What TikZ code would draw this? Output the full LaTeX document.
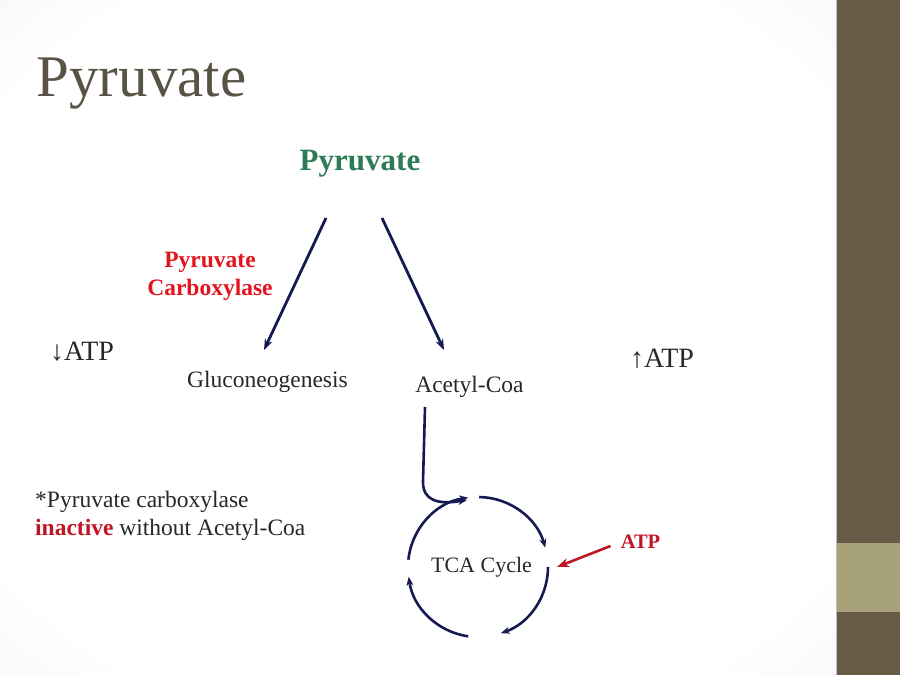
\documentclass[tikz,border=0pt]{standalone}
\usepackage{fontspec}
\setmainfont{Liberation Serif}
\usepackage{tikz}
\usetikzlibrary{arrows.meta,positioning,calc}
\definecolor{navy}{RGB}{22,26,82}
\definecolor{brick}{RGB}{192,22,36}
\definecolor{hired}{RGB}{228,20,30}
\definecolor{pgreen}{RGB}{44,124,88}
\definecolor{titlegray}{RGB}{88,83,68}
\definecolor{ink}{RGB}{40,40,40}
\definecolor{barbrown}{RGB}{103,91,72}
\definecolor{barolive}{RGB}{168,162,122}
\pgfdeclareradialshading{slideglow}{\pgfpoint{0bp}{0bp}}{color(0bp)=(white); color(30bp)=(white); color(50bp)=(black!9); color(72bp)=(black!18)}

\begin{document}
\begin{tikzpicture}[x=1pt,y=-1pt,
  txt/.style={anchor=base,inner sep=0pt,text=ink,font=\fontsize{23.5}{28}\selectfont},
  flow/.style={draw=navy,line width=2.8pt,-{Stealth[length=11pt,width=8pt]}},
  cyc/.style={draw=navy,line width=2.6pt,-{Stealth[length=9pt,width=7pt]}}]
  % slide background and side bar
  \useasboundingbox (0,0) rectangle (900,675);
  \shade[shading=slideglow] (0,0) rectangle (836,675);
  \fill[barbrown] (836,0) rectangle (900,675);
  \fill[barolive] (836,543) rectangle (900,612);
  \draw[black!25,line width=1pt] (836,0) -- (836,675);
  % title and labels
  \node[txt,text=titlegray,font=\fontsize{59}{70}\selectfont] (title) at (141.5,96) {Pyruvate};
  \node[txt,text=pgreen,font=\bfseries\fontsize{31}{36}\selectfont] (pyr) at (360,170) {Pyruvate};
  \node[txt,text=hired,font=\bfseries\fontsize{23.5}{28}\selectfont,align=center] (enz) at (210,295) {Pyruvate\\Carboxylase};
  \node[txt,anchor=base west,font=\fontsize{28}{32}\selectfont] (lowatp) at (50,360) {↓ATP};
  \node[txt,anchor=base west,font=\fontsize{28}{32}\selectfont] (highatp) at (630,367) {↑ATP};
  \node[txt] (gluco) at (267.5,387) {Gluconeogenesis};
  \node[txt] (acetyl) at (469.5,392) {Acetyl-Coa};
  \node[txt,font=\fontsize{22}{26}\selectfont] (cycle) at (481.5,572) {TCA Cycle};
  \node[txt,text=brick,font=\bfseries\fontsize{20.5}{24}\selectfont] (atp) at (640.5,548) {ATP};
  \node[txt,anchor=base west,align=left] (note) at (35,535) {*Pyruvate carboxylase\\\textbf{\textcolor{brick}{inactive}} without Acetyl-Coa};
  % arrows out of pyruvate
  \draw[flow] ($(pyr.base)+(-34,48)$) -- ($(gluco.base)+(-3.5,-37)$);
  \draw[flow] ($(pyr.base)+(22,48)$) -- ($(acetyl.base)+(-25.5,-42)$);
  % the cycle
  \coordinate (tca) at ($(cycle.base)+(-3.5,-5)$);
  \foreach \a/\b in {-174/-98,-89/-16,0/71,98/172}
    \draw[cyc] ($(tca)+(\a:70)$) arc[start angle=\a,end angle=\b,radius=70];
  \draw[cyc] ($(acetyl.base)+(-44.5,15)$) -- ++(-2,75) .. controls +(0,18) and +(-30,5) .. ($(tca)+(-11,-67)$);
  \draw[draw=brick,line width=2.6pt,-{Stealth[length=12pt,width=9pt]}] ($(atp.base)+(-30,-2)$) -- ($(tca)+(79,0)$);
\end{tikzpicture}
\end{document}
